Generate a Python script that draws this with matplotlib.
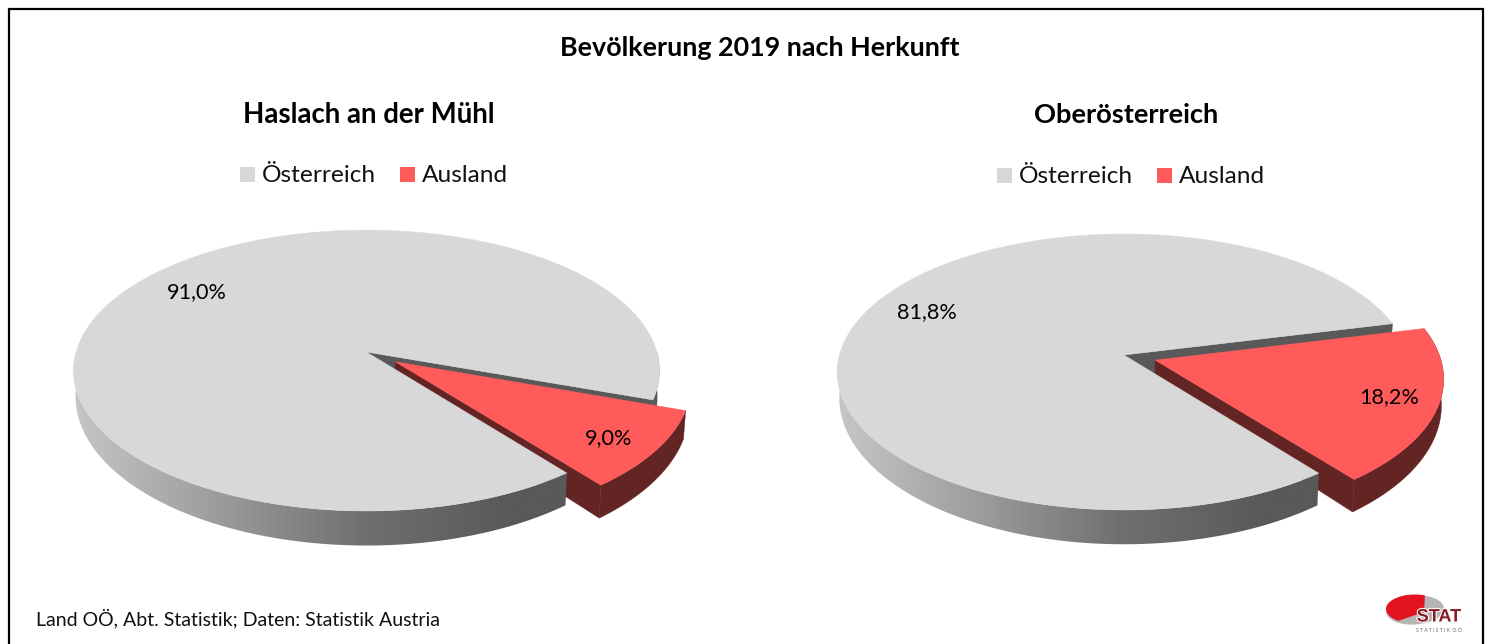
import numpy as np
import matplotlib
matplotlib.use("Agg")
import matplotlib.pyplot as plt
import matplotlib.patheffects as pe
from matplotlib.patches import Polygon, Rectangle, Ellipse
from matplotlib.colors import LinearSegmentedColormap

# ---- data ----
main_title = "Bevölkerung 2019 nach Herkunft"
pie_titles = ["Haslach an der Mühl", "Oberösterreich"]
categories = ["Österreich", "Ausland"]
haslach_values = [91.0, 9.0]
ooe_values = [81.8, 18.2]
source_text = "Land OÖ, Abt. Statistik; Daten: Statistik Austria"

# ---- style ----
FONT = ["Lato", "DejaVu Sans"]
C_GRAY, C_GRAY_WALL = "#D8D8D8", "#595959"
C_RED, C_RED_WALL = "#FF5B5B", "#632523"
CUT_ANGLE = -51.8   # slice boundary shared by both pies (degrees)

plt.rcParams["font.family"] = FONT
fig = plt.figure(figsize=(14.91, 6.44), dpi=100)
ax = fig.add_axes([0, 0, 1, 1])
ax.set_xlim(0, 1491)
ax.set_ylim(644, 0)
ax.axis("off")

grad = LinearSegmentedColormap.from_list(
    "wall", [(0, "#c6c6c6"), (0.26, "#9a9a9a"), (0.49, "#707070"), (0.75, "#595959"), (1, "#595959")])


class Persp:
    def __init__(s, cx, cy, A, B, k, d, f, g):
        s.cx, s.cy, s.A, s.B, s.k, s.d, s.f, s.g = cx, cy, A, B, k, d, f, g

    def top(s, u, v):
        w = 1 / (1 + s.k * v)
        return np.column_stack([s.cx + s.A * u * w, s.cy - s.B * v * w])

    def bot(s, u, v):
        w = 1 / (1 + s.k * v)
        return np.column_stack([s.cx + s.g * s.A * u * w, s.cy + s.d - s.f * s.B * v * w])


def arc(a0, a1, n=240):
    t = np.radians(np.linspace(a0, a1, n))
    return np.cos(t), np.sin(t)


def draw_pie(p, values, explode, lab_xy):
    share = values[1] / sum(values) * 360
    a_low, a_high = CUT_ANGLE, CUT_ANGLE + share
    mid = np.radians((a_low + a_high) / 2)
    ex, ey = explode * np.cos(mid), explode * np.sin(mid)

    # gray cut wall (behind everything)
    cu, cv = np.cos(np.radians(a_high)), np.sin(np.radians(a_high))
    uu, vv = np.array([0.0, cu]), np.array([0.0, cv])
    ax.add_patch(Polygon(np.vstack([p.top(uu, vv), p.bot(uu, vv)[::-1]]),
                         fc=C_GRAY_WALL, ec=C_GRAY_WALL, lw=0.3, zorder=2))

    # red walls
    u, v = arc(a_low, a_high)
    u, v = u + ex, v + ey
    ax.add_patch(Polygon(np.vstack([p.top(u, v), p.bot(u, v)[::-1]]),
                         fc=C_RED_WALL, ec=C_RED_WALL, lw=0.3, zorder=3))
    uu = np.array([ex, ex + np.cos(np.radians(a_low))])
    vv = np.array([ey, ey + np.sin(np.radians(a_low))])
    ax.add_patch(Polygon(np.vstack([p.top(uu, vv), p.bot(uu, vv)[::-1]]),
                         fc=C_RED_WALL, ec=C_RED_WALL, lw=0.3, zorder=3))

    # gray outer wall with horizontal gradient: visible rim, front half only
    spans = [(180.0, 360.0 + a_low)]
    if a_high < 0:
        spans.append((360.0 + a_high, 360.0))
    for a0, a1 in spans:
        u, v = arc(a0, a1)
        poly = np.vstack([p.top(u, v), p.bot(u, v)[::-1]])
        left = p.cx - p.A * 1.01
        im = ax.imshow(np.linspace(0, 1, 512)[None, :], cmap=grad, vmin=0, vmax=1,
                       extent=[left, left + 2 * p.A * 1.01, 644, 0], aspect="auto", zorder=4)
        clip = Polygon(poly, transform=ax.transData, fc="none", ec="none")
        ax.add_patch(clip)
        im.set_clip_path(clip)
    ax.set_xlim(0, 1491)
    ax.set_ylim(644, 0)

    # gray top surface
    u, v = arc(a_high, 360 + a_low, 500)
    ptsg = np.vstack([p.top(np.array([0.0]), np.array([0.0])), p.top(u, v)])
    ax.add_patch(Polygon(ptsg, fc=C_GRAY, ec=C_GRAY, lw=0.3, zorder=5))

    # red top surface
    u, v = arc(a_low, a_high)
    ptsr = np.vstack([p.top(np.array([ex]), np.array([ey])), p.top(u + ex, v + ey)])
    ax.add_patch(Polygon(ptsr, fc=C_RED, ec=C_RED, lw=0.3, zorder=6))

    for val, (x, y) in zip(values, lab_xy):
        ax.text(x, y, f"{val:.1f}%".replace(".", ","), fontsize=15.6, color="black",
                ha="center", va="center", zorder=8)


left_pie = Persp(366.5, 352, 290.4, 138, 0.132, 25, 1.06, 0.993)
right_pie = Persp(1124, 355, 284.5, 135.9, 0.123, 25, 1.06, 0.993)
draw_pie(left_pie, haslach_values, 0.12, [(197, 292), (609, 438)])
draw_pie(right_pie, ooe_values, 0.115, [(927, 312), (1389, 397)])

# titles
ax.text(760, 48, main_title, fontsize=19.4, fontweight="bold", ha="center", va="center")
ax.text(369, 115, pie_titles[0], fontsize=19.9, fontweight="bold", ha="center", va="center")
ax.text(1126, 115, pie_titles[1], fontsize=19.6, fontweight="bold", ha="center", va="center")

# legends
for (sq, tx, y) in [((240, 400), (262, 422), 174), ((997, 1157), (1019, 1179), 175)]:
    for i, name in enumerate(categories):
        ax.add_patch(Rectangle((sq[i], y - 7), 15, 15, fc=[C_GRAY, C_RED][i], ec="none", zorder=7))
        ax.text(tx[i], y + 1, name, fontsize=17.6, ha="left", va="center", color="#111111")

# source
ax.text(36, 618, source_text, fontsize=14, ha="left", va="center", color="#111111")

# frame (open at the bottom edge of the crop)
ax.plot([9, 9, 1483, 1483], [644, 9, 9, 644], color="black", lw=1.6, zorder=9, solid_joinstyle="miter")

# logo
ax.add_patch(Ellipse((1415, 610), 58, 29, angle=-4, fc="#B5B5B5", ec="none", zorder=7))
t = np.radians(np.linspace(70, 235, 80))
lx = 1415 + 29 * np.cos(t)
ly = 609 - 14.5 * np.sin(t)
ax.add_patch(Polygon(np.column_stack([np.r_[1424, lx], np.r_[612, ly]]), fc="#E3141F", ec="none", zorder=7))
ax.text(1439, 617, "STAT", fontsize=13, fontweight="bold", family="Liberation Sans", ha="center", va="center",
        color="#8A1A1F", zorder=8, path_effects=[pe.withStroke(linewidth=1.5, foreground="white")])
ax.text(1439, 630, "S T A T I S T I K  O Ö", fontsize=3.6, ha="center", va="center", color="#666666", zorder=8)

fig.savefig("out.png", dpi=100)
